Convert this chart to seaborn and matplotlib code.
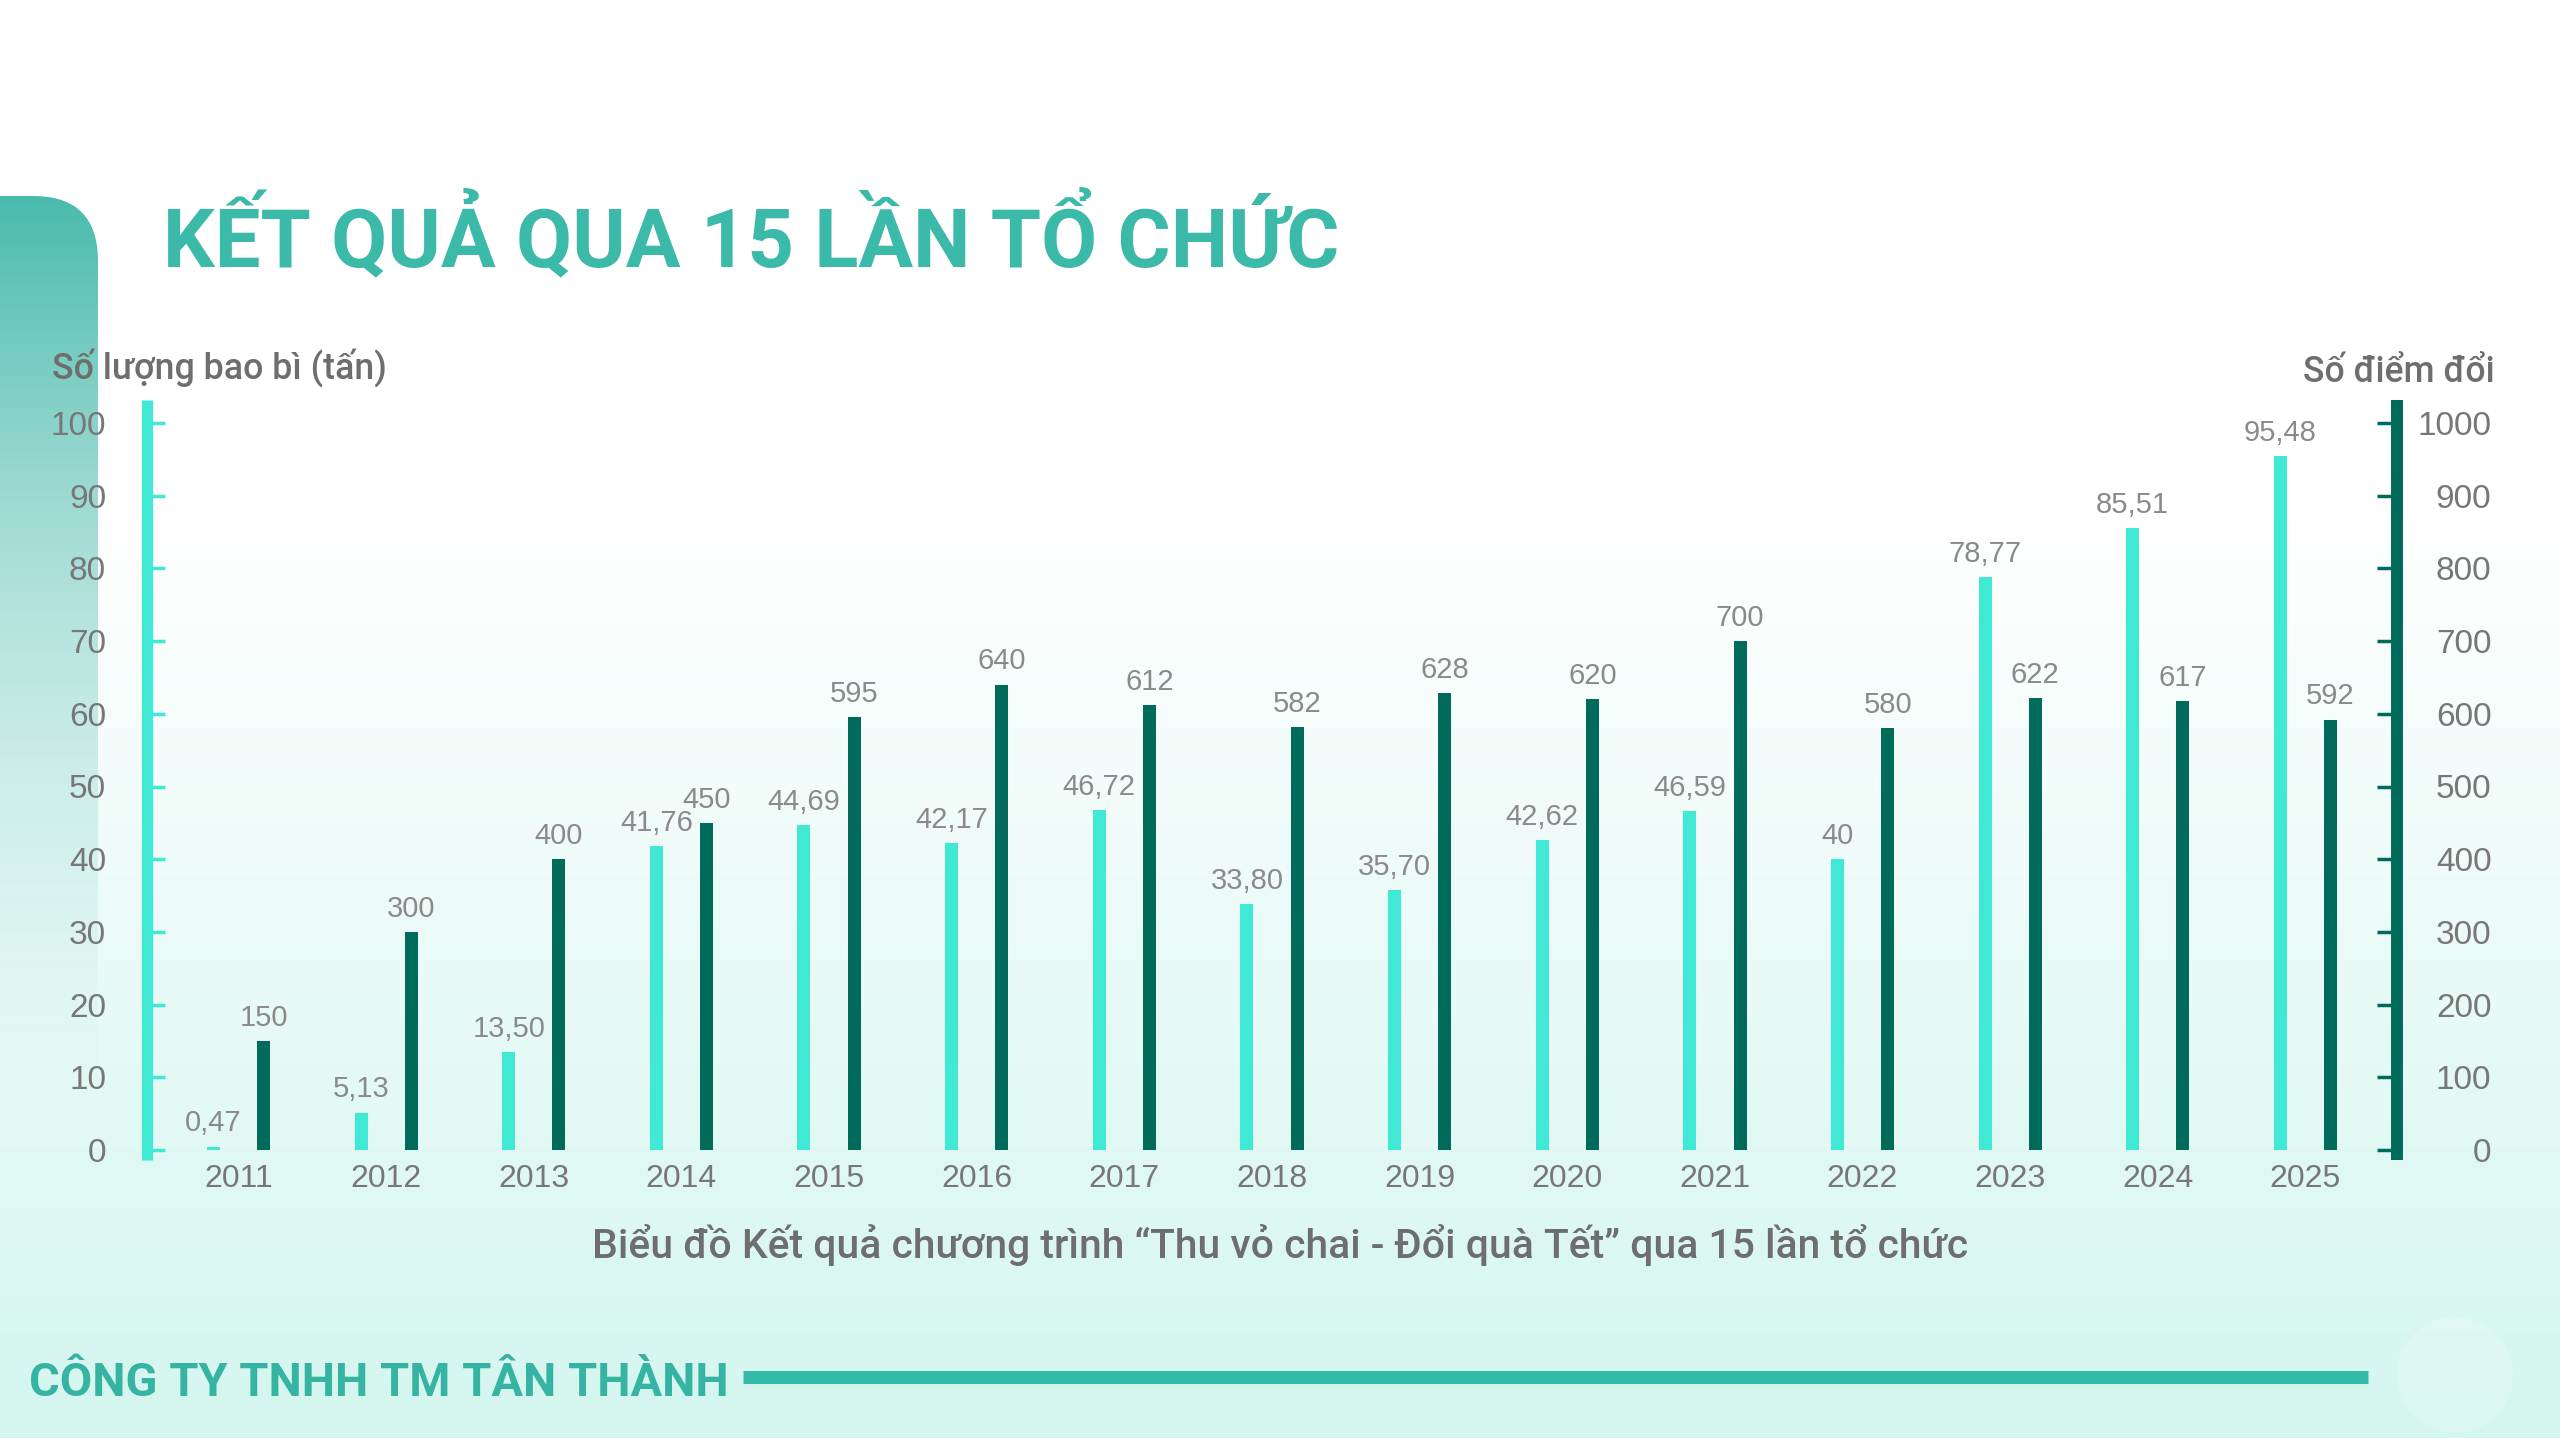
import numpy as np
import pandas as pd
import matplotlib
matplotlib.use("Agg")
import matplotlib.pyplot as plt
import seaborn as sns
from matplotlib.patches import FancyBboxPatch, Circle

# ---------------- data ----------------
years = ["2011", "2012", "2013", "2014", "2015", "2016", "2017", "2018",
         "2019", "2020", "2021", "2022", "2023", "2024", "2025"]
tons = [0.47, 5.13, 13.50, 41.76, 44.69, 42.17, 46.72, 33.80,
        35.70, 42.62, 46.59, 40, 78.77, 85.51, 95.48]
points = [150, 300, 400, 450, 595, 640, 612, 582,
          628, 620, 700, 580, 622, 617, 592]
left_ticks = [0, 10, 20, 30, 40, 50, 60, 70, 80, 90, 100]
right_ticks = [0, 100, 200, 300, 400, 500, 600, 700, 800, 900, 1000]

title_text = "KẾT QUẢ QUA 15 LẦN TỔ CHỨC"
left_label = "Số lượng bao bì (tấn)"
right_label = "Số điểm đổi"
caption_text = "Biểu đồ Kết quả chương trình “Thu vỏ chai - Đổi quà Tết” qua 15 lần tổ chức"
footer_text = "CÔNG TY TNHH TM TÂN THÀNH"

# ---------------- style ----------------
c_light = "#3FE9D4"
c_dark = "#006A5B"
c_title = "#3BB9A9"
c_footer = "#35B4A4"
c_line = "#33BBAA"
g_tick = "#777777"
g_val = "#8a8a8a"
g_lab = "#6e6e6e"

W, H = 2560, 1448
sns.set_theme(style="white")
plt.rcParams["font.family"] = ["Liberation Sans", "DejaVu Sans"]
TXT = ["Roboto", "DejaVu Sans"]

fig = plt.figure(figsize=(W / 100, H / 100), dpi=100)
fig.patch.set_facecolor("white")

# ---------------- background ----------------
bg = fig.add_axes([0, 0, 1, 1], zorder=-10)
bg.axis("off")
yy = np.arange(H)
t = np.clip((yy - 520) / (1400 - 520), 0, 1)
mint = np.array([0.835, 0.966, 0.937])
col = (1 - t)[:, None] * np.ones(3) + t[:, None] * mint
col[yy >= 1438] = 1.0
bg.imshow(np.repeat(col[:, None, :], 2, axis=1), extent=(0, W, H, 0),
          aspect="auto", interpolation="bilinear")

# left decorative rounded band fading downward
n = 400
ys = np.linspace(0, 1, n)
alpha = np.clip(1 - ys, 0, 1) ** 1.6
rgba = np.zeros((n, 2, 4))
rgba[..., :3] = np.array([0.29, 0.73, 0.675])
rgba[..., 3] = alpha[:, None]
im = bg.imshow(rgba, extent=(0, 98, 1150, 196), aspect="auto", interpolation="bilinear")
clip = FancyBboxPatch((-200, 196), 298, 1200, boxstyle="round,pad=0,rounding_size=65",
                      transform=bg.transData, facecolor="none", edgecolor="none")
bg.add_patch(clip)
im.set_clip_path(clip)

# footer line + faint circle
bg.plot([743, 2368], [1377, 1377], color=c_line, lw=9.4, solid_capstyle="butt")
bg.add_patch(Circle((2455, 1375), 58, color="white", alpha=0.18, lw=0))
bg.set_xlim(0, W)
bg.set_ylim(H, 0)

# ---------------- main axes ----------------
ax_l, ax_r = 147 / W, 2397 / W
ax_b, ax_t = 1 - 1160 / H, 1 - 400 / H
ax = fig.add_axes([ax_l, ax_b, ax_r - ax_l, ax_t - ax_b])
ax.set_facecolor("none")
ax2 = ax.twinx()

df = pd.DataFrame({"year": years, "tons": tons, "points": points})
df["pos"] = np.arange(len(df))
off = 0.17
bw = 0.088

sns.barplot(x=df["pos"] - off, y=df["tons"], native_scale=True, width=bw,
            color=c_light, saturation=1, errorbar=None, ax=ax, linewidth=0)
sns.barplot(x=df["pos"] + off, y=df["points"], native_scale=True, width=bw,
            color=c_dark, saturation=1, errorbar=None, ax=ax2, linewidth=0)

px_per_unit = (1150 - 423) / 100.0
ax.set_ylim(-10 / px_per_unit, (1150 - 400) / px_per_unit)
ax2.set_ylim(-100 / px_per_unit, 10 * (1150 - 400) / px_per_unit)
ax.set_xlim(-0.62, len(df) - 1 + 0.62)

ax.set_xlabel("")
ax.set_ylabel("")
ax2.set_xlabel("")
ax2.set_ylabel("")

for s in ["top", "right", "bottom"]:
    ax.spines[s].set_visible(False)
for s in ["top", "left", "bottom"]:
    ax2.spines[s].set_visible(False)
ax.spines["left"].set_color(c_light)
ax.spines["left"].set_linewidth(8)
ax.spines["left"].set_capstyle("butt")
ax2.spines["right"].set_color(c_dark)
ax2.spines["right"].set_linewidth(8.6)
ax2.spines["right"].set_capstyle("butt")

ax.set_xticks(df["pos"], labels=df["year"])
ax.tick_params(axis="x", length=0, pad=3, labelsize=23, labelcolor=g_tick)

ax.set_yticks(left_ticks, labels=[str(v) for v in left_ticks])
ax.tick_params(axis="y", direction="in", length=13, width=2.5, color=c_light,
               pad=29.5, labelsize=24, labelcolor=g_tick)
ax2.set_yticks(right_ticks, labels=[str(v) for v in right_ticks], ha="right")
ax2.tick_params(axis="y", direction="in", length=14.5, width=2.5, color=c_dark,
                pad=68, labelsize=24, labelcolor=g_tick)
ax.grid(False)
ax2.grid(False)


def fmt(v):
    if float(v).is_integer():
        return str(int(v))
    return f"{v:.2f}".replace(".", ",")


for p, v in zip(df["pos"], df["tons"]):
    ax.annotate(fmt(v), xy=(p - off, v), xytext=(0, 11), textcoords="offset points",
                ha="center", va="baseline", fontsize=21, color=g_val)
for p, v in zip(df["pos"], df["points"]):
    ax2.annotate(fmt(v), xy=(p + off, v), xytext=(0, 11), textcoords="offset points",
                 ha="center", va="baseline", fontsize=21, color=g_val)

# ---------------- texts ----------------
title = fig.text(163 / W, 1 - 266 / H, title_text, family=TXT, fontweight="bold",
                 fontsize=60, color=c_title, ha="left", va="baseline")
ylab_l = fig.text(52 / W, 1 - 379 / H, left_label, family=TXT, fontweight="medium",
                  fontsize=22, color=g_lab, ha="left", va="baseline")
ylab_r = fig.text(2495 / W, 1 - 382 / H, right_label, family=TXT, fontweight="medium",
                  fontsize=22, color=g_lab, ha="right", va="baseline")
caption = fig.text(0.5, 1 - 1258 / H, caption_text, family=TXT, fontweight="medium",
                   fontsize=26, color=g_lab, ha="center", va="baseline")
footer = fig.text(29 / W, 1 - 1396 / H, footer_text, family=TXT, fontweight="bold",
                  fontsize=36, color=c_footer, ha="left", va="baseline")

renderer = fig.canvas.get_renderer()


def fit_width(txt, target):
    w = txt.get_window_extent(renderer).width
    txt.set_fontsize(txt.get_fontsize() * target / w)


fit_width(title, 1176)
fit_width(ylab_l, 335)
fit_width(ylab_r, 193)
fit_width(caption, 1375)
fit_width(footer, 699)

fig.savefig("out.png", dpi=100, facecolor=fig.get_facecolor())
